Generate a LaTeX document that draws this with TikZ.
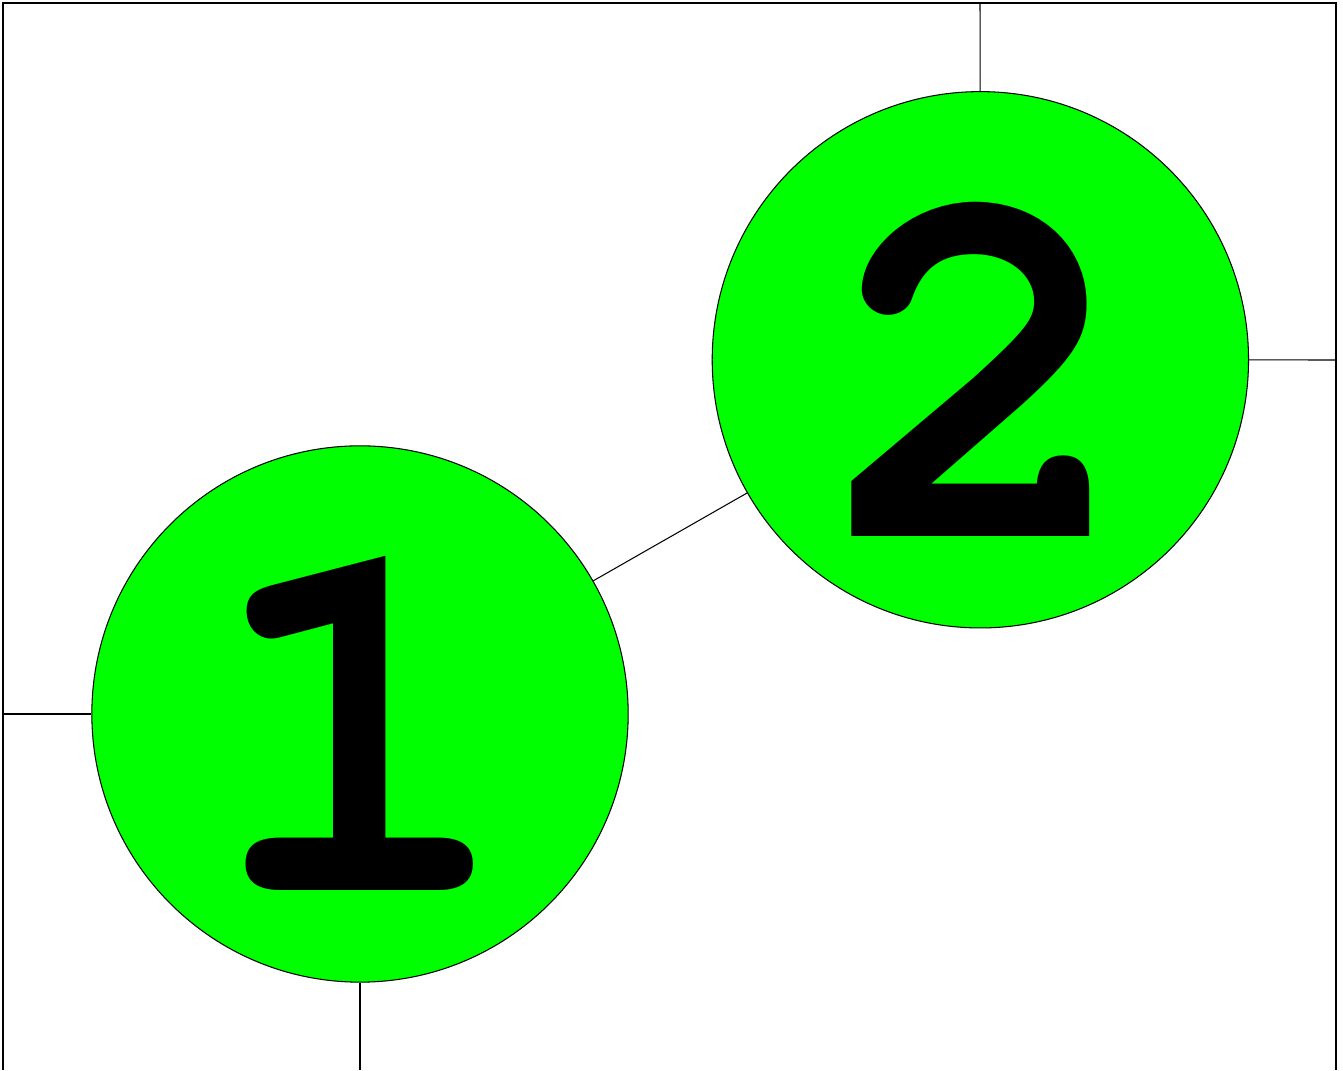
\documentclass[tikz,border=0pt]{standalone}
\usepackage{fontspec}
\newfontfamily\digitfont{TeX Gyre Cursor}
\usetikzlibrary{positioning}
\definecolor{fullgreen}{RGB}{0,255,0}

\begin{document}
\begin{tikzpicture}[%
    x=0.01cm, y=0.01cm,
    line width=0.3pt,
    on grid,
    disc/.style={circle, draw, fill=fullgreen, inner sep=0pt,
      minimum size=5.36cm, text height=3.53cm, text depth=0cm,
      font=\digitfont\bfseries\fontsize{149}{149}\selectfont}
  ]
  \useasboundingbox (0,0) rectangle (1343,1070);

  \node[disc] (1) at (360,356) {1};
  \node[disc] (2) [above right=3.54cm and 6.2cm of 1] {2};

  % ends on the frame
  \coordinate (top) at (980,1067);
  \coordinate (right) at (1336,710);
  \coordinate (left) at (3,356);
  \coordinate (bottom) at (360,0);

  \draw (3,0) -- (3,1067) -- (1336,1067) -- (1336,0);
  \draw (1) -- (2);
  \draw (2) -- (top);
  \draw (2) -- (right);
  \draw (1) -- (left);
  \draw (1) -- (bottom);
\end{tikzpicture}
\end{document}
